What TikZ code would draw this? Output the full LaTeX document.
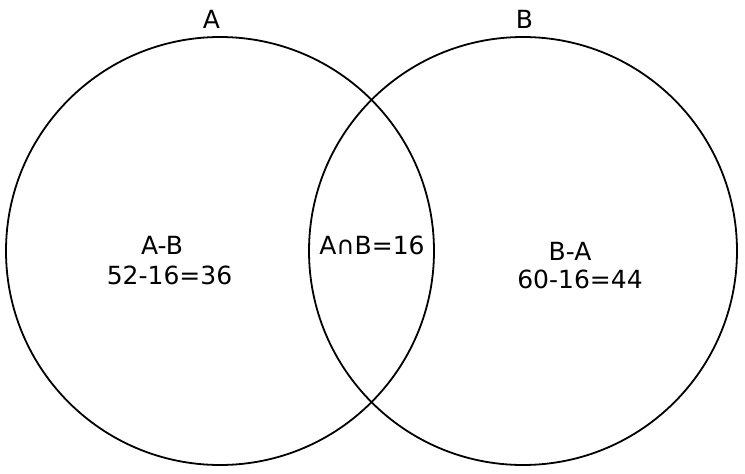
\documentclass[tikz,border=0pt]{standalone}
\usepackage{fontspec}
\setmainfont{DejaVu Sans}
\usetikzlibrary{positioning}
\tikzset{vennset/.style={draw, circle, line width=1.8pt,
minimum size=428pt, inner sep=0pt}}

\begin{document}
\begin{tikzpicture}[x=1pt, y=-1pt, txt/.style={font=\fontsize{25}{30}\selectfont, inner sep=0pt, anchor=base}]
				\useasboundingbox (0,0) rectangle (745,474);
				\node[vennset] (setA) at (220,251) {};
				\node[vennset] (setB) at (523,251) {};
				\node[txt] (nameA) at (211.5,28) {A};
				\node[txt] (nameB) at (524.5,28) {B};
				\node[txt] (onlyA) at (162,254) {A-B};
				\node[txt] (onlyAval) at (169.5,284) {52-16=36};
				\node[txt] (both) at (372,254) {A∩B=16};
				\node[txt] (onlyB) at (570,260) {B-A};
				\node[txt] (onlyBval) at (580,288) {60-16=44};
			\end{tikzpicture}
\end{document}
